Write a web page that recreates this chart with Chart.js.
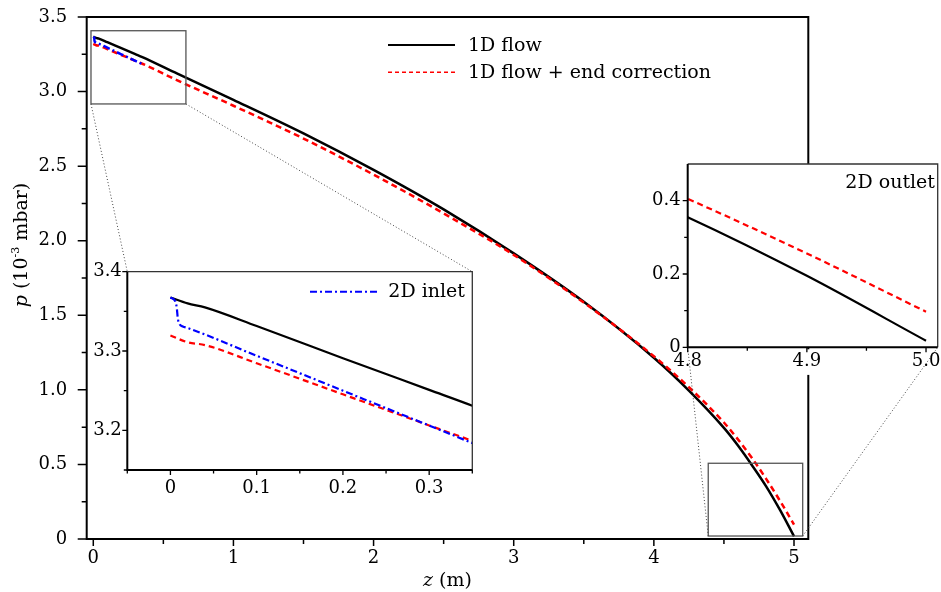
<!DOCTYPE html>
<html>
<head>
<meta charset="utf-8">
<script src="https://cdn.jsdelivr.net/npm/chart.js@4.4.0/dist/chart.umd.min.js"></script>
<style>
html,body{margin:0;padding:0;background:#fff;}
#wrap{position:relative;width:941px;height:592px;overflow:hidden;}
canvas{position:absolute;display:block;}
</style>
</head>
<body>
<div id="wrap">
<canvas id="main" width="941" height="592" style="left:0;top:0;width:941px;height:592px"></canvas>
<canvas id="inlet" width="402" height="250" style="left:78px;top:262px;width:402px;height:250px"></canvas>
<canvas id="outlet" width="301" height="220" style="left:640px;top:155px;width:301px;height:220px"></canvas>
</div>
<script>
// ---------------- data ----------------
const zMain  = [0, 0.02, 0.04, 0.1, 0.2, 0.3, 0.35, 0.6, 1.0, 1.5, 2.0, 2.5, 3.0, 3.5, 4.0, 4.25, 4.5, 4.6, 4.7, 4.8, 4.9, 5.0];
const pFlow  = [3.3675, 3.360, 3.355, 3.3315, 3.291, 3.251, 3.231, 3.12, 2.945, 2.72, 2.475, 2.21, 1.915, 1.59, 1.215, 0.995, 0.745, 0.627, 0.495, 0.355, 0.195, 0.018];
const pEnd   = [3.3196, 3.311, 3.3075, 3.2846, 3.2454, 3.2062, 3.1866, 3.075, 2.905, 2.685, 2.443, 2.183, 1.905, 1.585, 1.225, 1.018, 0.781, 0.668, 0.543, 0.405, 0.256, 0.097];
const zInlet = [0, 0.0058, 0.0074, 0.0085, 0.0105, 0.0143, 0.0202, 0.1, 0.2, 0.3, 0.35];
const pInlet = [3.3675, 3.3625, 3.354, 3.3417, 3.334, 3.331, 3.329, 3.294, 3.250, 3.206, 3.184];

const mainXTicks = [0, 1, 2, 3, 4, 5];
const mainXMinor = [0.5, 1.5, 2.5, 3.5, 4.5];
const mainYTicks = [0, 0.5, 1.0, 1.5, 2.0, 2.5, 3.0, 3.5];
const mainYMinor = [0.25, 0.75, 1.25, 1.75, 2.25, 2.75, 3.25];
const inXTicks = [0, 0.1, 0.2, 0.3];
const inXMinor = [-0.05, 0.05, 0.15, 0.25, 0.35];
const inYTicks = [3.2, 3.3, 3.4];
const inYMinor = [3.15, 3.25, 3.35];
const outXTicks = [4.8, 4.9, 5.0];
const outXMinor = [4.85, 4.95];
const outYTicks = [0, 0.2, 0.4];
const outYMinor = [0.1, 0.3];

const labelFlow = '1D flow';
const labelEnd = '1D flow + end correction';
const labelInlet = '2D inlet';
const labelOutlet = '2D outlet';

// ---------------- helpers ----------------
const FONT = '"DejaVu Serif", serif';
Chart.defaults.font.family = FONT;
Chart.defaults.font.size = 18;
Chart.defaults.color = '#000';

const pts = (xs, ys) => xs.map((v, i) => ({x: v, y: ys[i]}));
const fmt1 = v => (Math.abs(v) < 1e-9 ? '0' : v.toFixed(1));
const fmtInt = v => String(Math.round(v));
const noPad = s => { s.paddingLeft = 0; s.paddingRight = 0; s.paddingTop = 0; s.paddingBottom = 0; };

function tickMarks(ctx, scale, a, values, len, w) {
  ctx.save();
  ctx.strokeStyle = '#000';
  ctx.lineWidth = w;
  ctx.setLineDash([]);
  ctx.beginPath();
  values.forEach(v => {
    const p = scale.getPixelForValue(v);
    if (scale.axis === 'x') { ctx.moveTo(p, a.bottom); ctx.lineTo(p, a.bottom + len); }
    else { ctx.moveTo(a.left, p); ctx.lineTo(a.left - len, p); }
  });
  ctx.stroke();
  ctx.restore();
}

function drawRich(ctx, parts, x, y, align) {
  let w = 0;
  parts.forEach(p => { ctx.font = p.font; p.w = ctx.measureText(p.t).width; w += p.w; });
  let cx = align === 'center' ? x - w / 2 : (align === 'right' ? x - w : x);
  ctx.textAlign = 'left';
  ctx.textBaseline = 'middle';
  parts.forEach(p => { ctx.font = p.font; ctx.fillText(p.t, cx, y + (p.dy || 0)); cx += p.w; });
}

function frame(ctx, a, thin) {
  ctx.save();
  ctx.setLineDash([]);
  if (thin) {
    ctx.strokeStyle = '#333'; ctx.lineWidth = 1.3;
    ctx.beginPath();
    ctx.moveTo(a.left, a.top); ctx.lineTo(a.right, a.top); ctx.lineTo(a.right, a.bottom);
    ctx.stroke();
    ctx.strokeStyle = '#000'; ctx.lineWidth = 2;
    ctx.beginPath();
    ctx.moveTo(a.left, a.top); ctx.lineTo(a.left, a.bottom); ctx.lineTo(a.right, a.bottom);
    ctx.stroke();
  } else {
    ctx.strokeStyle = '#000'; ctx.lineWidth = 2;
    ctx.strokeRect(a.left, a.top, a.right - a.left, a.bottom - a.top);
  }
  ctx.restore();
}

// page-pixel rectangles of the inset plot areas
const INLET_CANVAS = {x: 78, y: 262, w: 402, h: 250};
const INLET_AREA = {l: 127.3, t: 271.7, r: 472.3, b: 470};
const OUTLET_CANVAS = {x: 640, y: 155, w: 301, h: 220};
const OUTLET_AREA = {l: 687.7, t: 164, r: 937.7, b: 347.3};

const whiteArea = {
  id: 'whiteArea',
  beforeDraw(chart) {
    const {ctx, chartArea: a} = chart;
    ctx.save(); ctx.fillStyle = '#fff';
    ctx.fillRect(a.left, a.top, a.right - a.left, a.bottom - a.top);
    ctx.restore();
  }
};

// ---------------- main chart ----------------
const mainDecor = {
  id: 'mainDecor',
  afterDraw(chart) {
    const {ctx, chartArea: a, scales: {x, y}} = chart;
    frame(ctx, a, false);
    tickMarks(ctx, x, a, mainXTicks, 7, 1.5);
    tickMarks(ctx, x, a, mainXMinor, 5, 1.5);
    tickMarks(ctx, y, a, mainYTicks, 9, 1.5);
    tickMarks(ctx, y, a, mainYMinor, 5, 1.5);

    ctx.save();
    const box = (z0, z1, p0, p1) => {
      const l = x.getPixelForValue(z0), r = x.getPixelForValue(z1);
      const t = y.getPixelForValue(p1), b = y.getPixelForValue(p0);
      ctx.strokeRect(l, t, r - l, b - t);
      return {l, r, t, b};
    };
    ctx.strokeStyle = '#555'; ctx.lineWidth = 1.3;
    const bi = box(-0.0164, 0.661, 2.917, 3.408);
    const bo = box(4.388, 5.062, 0.02, 0.5078);
    ctx.strokeStyle = '#444'; ctx.lineWidth = 1; ctx.setLineDash([1, 2.2]);
    ctx.beginPath();
    ctx.moveTo(bi.l, bi.b); ctx.lineTo(INLET_AREA.l, INLET_AREA.t);
    ctx.moveTo(bi.r, bi.b); ctx.lineTo(INLET_AREA.r, INLET_AREA.t);
    ctx.moveTo(bo.l, bo.b); ctx.lineTo(OUTLET_AREA.l, OUTLET_AREA.b);
    ctx.moveTo(bo.r, bo.b); ctx.lineTo(OUTLET_AREA.r, OUTLET_AREA.b);
    ctx.stroke();
    ctx.setLineDash([]);

    const dsFlow = chart.data.datasets[2], dsEnd = chart.data.datasets[1];
    ctx.strokeStyle = dsFlow.borderColor; ctx.lineWidth = 2;
    ctx.beginPath(); ctx.moveTo(388, 45); ctx.lineTo(455, 45); ctx.stroke();
    ctx.strokeStyle = dsEnd.borderColor; ctx.lineWidth = 1.5; ctx.setLineDash([4, 3]);
    ctx.beginPath(); ctx.moveTo(388, 72.3); ctx.lineTo(455, 72.3); ctx.stroke();
    ctx.setLineDash([]);
    ctx.fillStyle = '#000';
    drawRich(ctx, [{t: labelFlow, font: '19px ' + FONT}], 468, 46.5, 'left');
    drawRich(ctx, [{t: labelEnd, font: '19px ' + FONT}], 468, 73.5, 'left');

    drawRich(ctx, [
      {t: 'z', font: 'italic 19px ' + FONT},
      {t: ' (m)', font: '19px ' + FONT}
    ], (a.left + a.right) / 2, 581, 'center');
    ctx.translate(22, 245);
    ctx.rotate(-Math.PI / 2);
    drawRich(ctx, [
      {t: 'p', font: 'italic 19px ' + FONT},
      {t: ' (10', font: '19px ' + FONT},
      {t: '-3', font: '11px ' + FONT, dy: -6},
      {t: ' mbar)', font: '19px ' + FONT}
    ], 0, 0, 'center');
    ctx.restore();
  }
};

const lineDefaults = {pointRadius: 0, fill: false, cubicInterpolationMode: 'monotone'};

new Chart(document.getElementById('main'), {
  type: 'line',
  data: {
    datasets: [
      Object.assign({label: labelInlet, data: pts(zInlet, pInlet), borderColor: '#0000ff', borderDash: [7, 3, 2, 3], borderWidth: 2.5}, lineDefaults),
      Object.assign({label: labelEnd, data: pts(zMain, pEnd), borderColor: '#ff0000', borderDash: [6, 4], borderWidth: 2.5}, lineDefaults),
      Object.assign({label: labelFlow, data: pts(zMain, pFlow), borderColor: '#000000', borderWidth: 2.5}, lineDefaults)
    ]
  },
  options: {
    responsive: false, animation: false, devicePixelRatio: 1,
    layout: {padding: {left: 0, right: 941 - 808.3, top: 17, bottom: 0}},
    plugins: {legend: {display: false}, tooltip: {enabled: false}},
    scales: {
      x: {
        type: 'linear', min: -0.047, max: 5.102,
        grid: {display: false, drawTicks: false}, border: {display: false},
        afterBuildTicks: s => { s.ticks = mainXTicks.map(v => ({value: v})); },
        afterFit: s => { s.height = 592 - 539; noPad(s); },
        ticks: {padding: 9, maxRotation: 0, autoSkip: false, callback: v => fmtInt(v), font: {size: 18, lineHeight: 1.2}}
      },
      y: {
        type: 'linear', min: 0, max: 3.5,
        grid: {display: false, drawTicks: false}, border: {display: false},
        afterBuildTicks: s => { s.ticks = mainYTicks.map(v => ({value: v})); },
        afterFit: s => { s.width = 86.7; noPad(s); },
        ticks: {padding: 19.5, autoSkip: false, callback: v => fmt1(v), font: {size: 18, lineHeight: 1.2}}
      }
    }
  },
  plugins: [mainDecor]
});

// ---------------- inlet inset ----------------
const inletDecor = {
  id: 'inletDecor',
  afterDraw(chart) {
    const {ctx, chartArea: a, scales: {x, y}} = chart;
    frame(ctx, a, true);
    tickMarks(ctx, x, a, inXTicks, 5, 1.3);
    tickMarks(ctx, x, a, inXMinor, 3.5, 1.3);
    tickMarks(ctx, y, a, inYTicks, 5, 1.3);
    tickMarks(ctx, y, a, inYMinor, 3.5, 1.3);
    const ds = chart.data.datasets[0];
    const ox = INLET_CANVAS.x, oy = INLET_CANVAS.y;
    ctx.save();
    ctx.strokeStyle = ds.borderColor; ctx.lineWidth = 2; ctx.setLineDash([7, 3, 2, 3]);
    ctx.beginPath(); ctx.moveTo(310 - ox, 291.7 - oy); ctx.lineTo(380 - ox, 291.7 - oy); ctx.stroke();
    ctx.setLineDash([]);
    ctx.fillStyle = '#000';
    drawRich(ctx, [{t: labelInlet, font: '19px ' + FONT}], 465 - ox, 292.5 - oy, 'right');
    ctx.restore();
  }
};

new Chart(document.getElementById('inlet'), {
  type: 'line',
  data: {
    datasets: [
      Object.assign({label: labelInlet, data: pts(zInlet, pInlet), borderColor: '#0000ff', borderDash: [7, 3, 2, 3], borderWidth: 2.2, clip: 0}, lineDefaults),
      Object.assign({label: labelEnd, data: pts(zMain, pEnd), borderColor: '#ff0000', borderDash: [6, 4], borderWidth: 2.2, clip: 0}, lineDefaults),
      Object.assign({label: labelFlow, data: pts(zMain, pFlow), borderColor: '#000000', borderWidth: 2.2, clip: 0}, lineDefaults)
    ]
  },
  options: {
    responsive: false, animation: false, devicePixelRatio: 1,
    layout: {padding: {left: 0, right: INLET_CANVAS.w - (INLET_AREA.r - INLET_CANVAS.x), top: INLET_AREA.t - INLET_CANVAS.y, bottom: 0}},
    plugins: {legend: {display: false}, tooltip: {enabled: false}},
    scales: {
      x: {
        type: 'linear', min: -0.05, max: 0.35,
        grid: {display: false, drawTicks: false}, border: {display: false},
        afterBuildTicks: s => { s.ticks = inXTicks.map(v => ({value: v})); },
        afterFit: s => { s.height = INLET_CANVAS.h - (INLET_AREA.b - INLET_CANVAS.y); noPad(s); },
        ticks: {padding: 8, maxRotation: 0, autoSkip: false, callback: v => fmt1(v), font: {size: 18, lineHeight: 1.2}}
      },
      y: {
        type: 'linear', min: 3.15, max: 3.4,
        grid: {display: false, drawTicks: false}, border: {display: false},
        afterBuildTicks: s => { s.ticks = inYTicks.map(v => ({value: v})); },
        afterFit: s => { s.width = INLET_AREA.l - INLET_CANVAS.x; noPad(s); },
        ticks: {padding: 5.5, autoSkip: false, callback: v => fmt1(v), font: {size: 18, lineHeight: 1.2}}
      }
    }
  },
  plugins: [whiteArea, inletDecor]
});

// ---------------- outlet inset ----------------
const outletDecor = {
  id: 'outletDecor',
  afterDraw(chart) {
    const {ctx, chartArea: a, scales: {x, y}} = chart;
    frame(ctx, a, true);
    tickMarks(ctx, x, a, outXTicks, 5, 1.3);
    tickMarks(ctx, x, a, outXMinor, 3.5, 1.3);
    tickMarks(ctx, y, a, outYTicks, 5, 1.3);
    tickMarks(ctx, y, a, outYMinor, 3.5, 1.3);
    const ox = OUTLET_CANVAS.x, oy = OUTLET_CANVAS.y;
    ctx.save();
    ctx.fillStyle = '#000';
    drawRich(ctx, [{t: labelOutlet, font: '19px ' + FONT}], 935 - ox, 183 - oy, 'right');
    ctx.restore();
  }
};

new Chart(document.getElementById('outlet'), {
  type: 'line',
  data: {
    datasets: [
      Object.assign({label: labelEnd, data: pts(zMain, pEnd), borderColor: '#ff0000', borderDash: [6, 4], borderWidth: 2.2, clip: 0}, lineDefaults),
      Object.assign({label: labelFlow, data: pts(zMain, pFlow), borderColor: '#000000', borderWidth: 2.2, clip: 0}, lineDefaults)
    ]
  },
  options: {
    responsive: false, animation: false, devicePixelRatio: 1,
    layout: {padding: {left: 0, right: OUTLET_CANVAS.w - (OUTLET_AREA.r - OUTLET_CANVAS.x), top: OUTLET_AREA.t - OUTLET_CANVAS.y, bottom: 0}},
    plugins: {legend: {display: false}, tooltip: {enabled: false}},
    scales: {
      x: {
        type: 'linear', min: 4.8, max: 5.0098,
        grid: {display: false, drawTicks: false}, border: {display: false},
        afterBuildTicks: s => { s.ticks = outXTicks.map(v => ({value: v})); },
        afterFit: s => { s.height = OUTLET_CANVAS.h - (OUTLET_AREA.b - OUTLET_CANVAS.y); noPad(s); },
        ticks: {
          padding: 3, maxRotation: 0, autoSkip: false, callback: v => v.toFixed(1),
          font: {size: 18, lineHeight: 1.2},
          showLabelBackdrop: true,
          backdropColor: c => (Math.abs(c.tick.value - 4.9) < 1e-6 ? '#ffffff' : 'rgba(0,0,0,0)'),
          backdropPadding: {top: 1, bottom: 3, left: 2, right: 2}
        }
      },
      y: {
        type: 'linear', min: 0, max: 0.5,
        grid: {display: false, drawTicks: false}, border: {display: false},
        afterBuildTicks: s => { s.ticks = outYTicks.map(v => ({value: v})); },
        afterFit: s => { s.width = OUTLET_AREA.l - OUTLET_CANVAS.x; noPad(s); },
        ticks: {padding: 7, autoSkip: false, callback: v => fmt1(v), font: {size: 18, lineHeight: 1.2}}
      }
    }
  },
  plugins: [whiteArea, outletDecor]
});
</script>
</body>
</html>
